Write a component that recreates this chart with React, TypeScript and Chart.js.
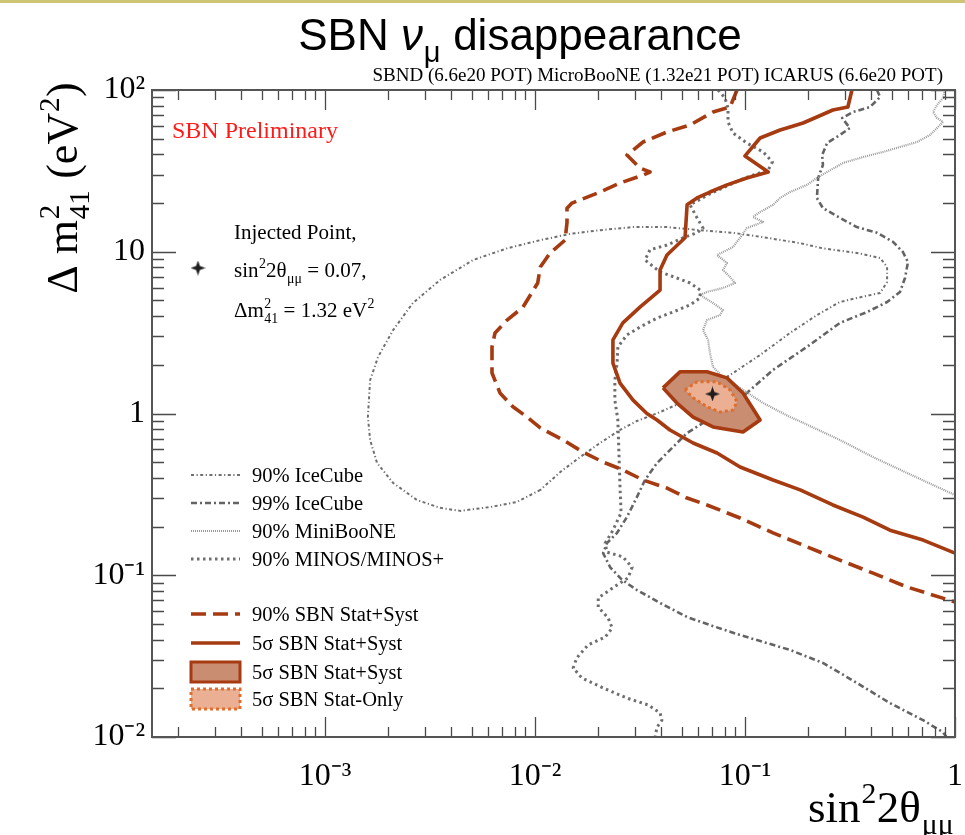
import React, { useEffect, useRef } from 'react';
import { Chart, registerables } from 'chart.js';

Chart.register(...registerables);

type Pt = [number, number];

// ---------------- axis ranges & tick labels ----------------
const xRange: [number, number] = [1.5e-4, 1];
const yRange: [number, number] = [1e-2, 1e2];
const xTickValues = [1e-3, 1e-2, 1e-1, 1];
const xTickLabels = ['10\u207B\u00B3', '10\u207B\u00B2', '10\u207B\u00B9', '1'];
const yTickValues = [1e-2, 1e-1, 1, 10, 100];
const yTickLabels = ['10\u207B\u00B2', '10\u207B\u00B9', '1', '10', '10\u00B2'];

// ---------------- data (sin^2 2theta, dm^2_41) ----------------
const injectedPoint: Pt[] = [[0.07, 1.32]];

const sbn90StatSyst: Pt[] = [
  [0.0916, 100], [0.0849, 78.5], [0.0704, 73.1], [0.0547, 60.8], [0.0425, 55.0], [0.0327, 47.7],
  [0.0274, 39.6], [0.0316, 32.9], [0.0353, 31.1], [0.0327, 29.8], [0.0254, 26.6], [0.0204, 23.4],
  [0.015, 20.0], [0.0142, 18.6], [0.0142, 15.1], [0.0139, 11.8], [0.0118, 9.83], [0.0106, 8.05],
  [0.0103, 6.41], [0.00877, 4.55], [0.00736, 3.78], [0.00645, 3.15], [0.00624, 2.58], [0.00624, 1.78],
  [0.00681, 1.34], [0.00785, 1.1], [0.00916, 0.951], [0.0106, 0.814], [0.0136, 0.686], [0.0169, 0.578],
  [0.0211, 0.501], [0.0262, 0.448], [0.0327, 0.388], [0.0425, 0.346], [0.053, 0.3], [0.0659, 0.272],
  [0.0947, 0.226], [0.136, 0.183], [0.197, 0.15], [0.283, 0.124], [0.407, 0.103], [0.591, 0.0846],
  [1, 0.0684],
];

const sbn5StatSyst: Pt[] = [
  [0.323, 100], [0.309, 78.5], [0.262, 75.2], [0.22, 68.1], [0.189, 62.5], [0.164, 59.0], [0.147, 56.6],
  [0.118, 50.5], [0.1, 39.1], [0.129, 31.1], [0.102, 28.6], [0.0821, 25.9], [0.0681, 23.4], [0.0591, 21.5],
  [0.053, 19.5], [0.0518, 12.2], [0.0425, 9.55], [0.0394, 7.71], [0.0394, 5.8], [0.0316, 4.55],
  [0.0262, 3.63], [0.0235, 2.85], [0.0235, 2.05], [0.0254, 1.54], [0.0293, 1.21], [0.0341, 1.0],
  [0.0381, 0.912], [0.0439, 0.791], [0.0566, 0.657], [0.0736, 0.57], [0.0947, 0.467], [0.136, 0.388],
  [0.183, 0.337], [0.262, 0.272], [0.365, 0.229], [0.49, 0.19], [0.705, 0.165], [1, 0.137],
];

const sbn5Region: Pt[] = [
  [0.0407, 1.44], [0.049, 1.81], [0.0659, 1.81], [0.0821, 1.66], [0.0978, 1.34], [0.118, 0.912],
  [0.0978, 0.768], [0.0704, 0.826], [0.0566, 0.951], [0.0474, 1.16], [0.0407, 1.44],
];

const sbn5StatOnly: Pt[] = [
  [0.0518, 1.4], [0.0591, 1.57], [0.0736, 1.57], [0.0849, 1.4], [0.0916, 1.18], [0.0877, 1.05],
  [0.076, 1.02], [0.0659, 1.1], [0.0566, 1.25], [0.0518, 1.4],
];

const iceCube90: Pt[] = [
  [0.0106, 0.337], [0.00821, 0.284], [0.00611, 0.264], [0.0044, 0.25], [0.00353, 0.261], [0.00274, 0.292],
  [0.00211, 0.372], [0.00177, 0.494], [0.00164, 0.686], [0.0016, 0.951], [0.00164, 1.61], [0.00179, 2.24],
  [0.00211, 3.28], [0.00262, 4.82], [0.00353, 6.69], [0.00507, 8.89], [0.00736, 10.5], [0.0106, 11.8],
  [0.0147, 12.9], [0.0204, 13.6], [0.0293, 14.2], [0.0425, 14.2], [0.0611, 13.6], [0.0877, 13.1],
  [0.127, 12.2], [0.183, 11.3], [0.235, 10.5], [0.341, 9.83], [0.44, 9.15], [0.475, 8.05], [0.475, 6.5],
  [0.44, 5.56], [0.341, 5.18], [0.283, 4.89], [0.22, 4.06], [0.164, 3.15], [0.118, 2.3], [0.0849, 1.73],
  [0.0566, 1.26], [0.0394, 1.02], [0.0306, 0.899], [0.0254, 0.791], [0.0204, 0.657], [0.0164, 0.538],
  [0.0132, 0.435], [0.0106, 0.337],
];

const iceCube99: Pt[] = [
  [0.425, 100], [0.44, 90.5], [0.394, 78.5], [0.327, 73.1], [0.29, 67.1], [0.316, 58.2], [0.283, 52.7],
  [0.246, 47.0], [0.233, 39.6], [0.235, 34.4], [0.223, 28.6], [0.22, 21.5], [0.235, 18.6], [0.283, 16.2],
  [0.341, 14.2], [0.425, 13.1], [0.507, 11.5], [0.565, 9.96], [0.597, 8.64], [0.578, 6.88], [0.547, 5.64],
  [0.475, 4.89], [0.381, 4.24], [0.283, 3.63], [0.197, 2.58], [0.136, 1.86], [0.102, 1.34], [0.0849, 1.05],
  [0.0631, 0.874], [0.053, 0.758], [0.0439, 0.594], [0.0381, 0.494], [0.0334, 0.388], [0.0306, 0.305],
  [0.0274, 0.229], [0.0246, 0.183], [0.022, 0.158], [0.0211, 0.137], [0.0228, 0.112], [0.026, 0.0935],
  [0.0306, 0.081], [0.0394, 0.0674], [0.053, 0.0552], [0.0681, 0.0492], [0.0947, 0.0427], [0.164, 0.0345],
  [0.235, 0.0287], [0.341, 0.0216], [0.49, 0.0162], [0.705, 0.0127], [0.877, 0.0107], [0.92, 0.0098],
];

const miniBooNE90: Pt[] = [
  [0.896, 100], [0.877, 89.3], [0.821, 80.8], [0.786, 73.1], [0.821, 67.1], [0.877, 63.4], [0.821, 58.2],
  [0.76, 52.7], [0.659, 47.7], [0.547, 44.4], [0.454, 41.4], [0.365, 38.5], [0.293, 35.4], [0.246, 31.1],
  [0.22, 28.6], [0.197, 25.9], [0.164, 23.4], [0.147, 21.5], [0.136, 19.5], [0.118, 17.6], [0.109, 16.4],
  [0.122, 15.3], [0.102, 14.0], [0.0947, 12.2], [0.0877, 10.7], [0.0736, 9.55], [0.0821, 8.52],
  [0.0785, 7.71], [0.0849, 6.98], [0.0896, 6.41], [0.0785, 5.97], [0.0659, 5.64], [0.0611, 5.4],
  [0.0704, 4.82], [0.0785, 4.36], [0.076, 4.06], [0.0659, 3.78], [0.0631, 3.28], [0.0667, 2.85],
  [0.0681, 2.37], [0.0704, 1.94], [0.0785, 1.68], [0.0978, 1.4], [0.122, 1.16], [0.164, 0.951],
  [0.177, 0.912], [0.283, 0.686], [0.407, 0.538], [0.591, 0.429], [1, 0.313],
];

const minos90: Pt[] = [
  [0.0744, 100], [0.0803, 89.3], [0.083, 77.4], [0.083, 63.4], [0.0877, 54.2], [0.102, 47.0], [0.122, 41.4],
  [0.135, 35.9], [0.129, 32.0], [0.1, 28.6], [0.0821, 25.5], [0.0681, 22.8], [0.0547, 19.5], [0.0591, 16.2],
  [0.0631, 14.0], [0.0591, 13.1], [0.0507, 12.2], [0.0425, 11.0], [0.0353, 10.3], [0.0334, 8.89],
  [0.0394, 7.5], [0.0474, 6.88], [0.0547, 6.41], [0.0611, 5.8], [0.0611, 5.18], [0.0547, 4.69],
  [0.0454, 4.24], [0.0381, 3.89], [0.0316, 3.42], [0.0274, 3.06], [0.0248, 2.58], [0.0246, 2.05],
  [0.024, 1.61], [0.024, 1.21], [0.0248, 0.912], [0.0251, 0.57], [0.0254, 0.351], [0.0257, 0.243],
  [0.0235, 0.19], [0.0216, 0.158], [0.022, 0.139], [0.0262, 0.13], [0.029, 0.112], [0.0277, 0.0962],
  [0.0246, 0.0871], [0.02, 0.0724], [0.02, 0.0636], [0.0223, 0.0544], [0.0233, 0.0472], [0.0216, 0.0415],
  [0.0179, 0.0371], [0.0158, 0.0308], [0.0152, 0.0267], [0.0167, 0.0232], [0.0211, 0.0201], [0.0274, 0.0174],
  [0.0345, 0.0158], [0.0394, 0.0141], [0.0402, 0.0127], [0.0381, 0.0115], [0.0373, 0.01],
];

const legendLabels = [
  '90% IceCube', '99% IceCube', '90% MiniBooNE', '90% MINOS/MINOS+',
  '90% SBN Stat+Syst', '5\u03C3 SBN Stat+Syst', '5\u03C3 SBN Stat+Syst', '5\u03C3 SBN Stat-Only',
];

// ---------------- styles ----------------
const SERIF = '"Liberation Serif", "Times New Roman", serif';
const SANS = '"Liberation Sans", Arial, sans-serif';
const SBN_COLOR = '#a63a10';
const REGION_FILL = '#c98d72';
const STATONLY_FILL = '#ebb093';
const STATONLY_LINE = '#df6d2c';

const lineStyles: any = {
  ice90: { color: '#6f6f6f', width: 2, dash: [3, 2.5, 1.2, 2.5] },
  ice99: { color: '#646464', width: 2.6, dash: [6, 3, 2, 3] },
  mini: { color: '#9a9a9a', width: 2.2, dash: [1, 1] },
  minos: { color: '#6e6e6e', width: 3, dash: [2.5, 3.5] },
  sbn90: { color: SBN_COLOR, width: 3.6, dash: [15, 7] },
  sbn5: { color: SBN_COLOR, width: 3.6, dash: [] },
};

function makeStar(size: number, color: string) {
  const c = document.createElement('canvas');
  c.width = size; c.height = size;
  const g = c.getContext('2d') as CanvasRenderingContext2D;
  const m = size / 2; const w = size * 0.13;
  g.fillStyle = color;
  g.beginPath();
  g.moveTo(m, 0); g.lineTo(m + w, m - w); g.lineTo(size, m); g.lineTo(m + w, m + w);
  g.lineTo(m, size); g.lineTo(m - w, m + w); g.lineTo(0, m); g.lineTo(m - w, m - w);
  g.closePath(); g.fill();
  return c;
}

function logTicks(min: number, max: number) {
  const out: { v: number; major: boolean }[] = [];
  for (let e = Math.floor(Math.log10(min)); e <= Math.ceil(Math.log10(max)); e++) {
    for (let k = 1; k <= 9; k++) {
      const v = k * Math.pow(10, e);
      if (v >= min * 0.9999 && v <= max * 1.0001) out.push({ v, major: k === 1 });
    }
  }
  return out;
}

type Seg = { t?: string; it?: boolean; sup?: string; sub?: string };

function drawRich(ctx: CanvasRenderingContext2D, x: number, y: number, segs: Seg[], size: number,
  family: string, align: 'left' | 'center' | 'right', color: string) {
  const small = size * 0.66;
  const widths = segs.map((s) => {
    if (s.sup !== undefined || s.sub !== undefined) {
      ctx.font = `${small}px ${family}`;
      return Math.max(ctx.measureText(s.sup || '').width, ctx.measureText(s.sub || '').width) + size * 0.03;
    }
    ctx.font = `${s.it ? 'italic ' : ''}${size}px ${family}`;
    return ctx.measureText(s.t || '').width;
  });
  const total = widths.reduce((a, b) => a + b, 0);
  let cx = align === 'left' ? x : align === 'center' ? x - total / 2 : x - total;
  ctx.fillStyle = color;
  ctx.textAlign = 'left';
  ctx.textBaseline = 'alphabetic';
  segs.forEach((s, i) => {
    if (s.sup !== undefined || s.sub !== undefined) {
      ctx.font = `${small}px ${family}`;
      if (s.sup) ctx.fillText(s.sup, cx + size * 0.02, y - size * 0.42);
      if (s.sub) ctx.fillText(s.sub, cx + size * 0.02, y + size * 0.27);
    } else {
      ctx.font = `${s.it ? 'italic ' : ''}${size}px ${family}`;
      ctx.fillText(s.t || '', cx, y);
    }
    cx += widths[i];
  });
}

let star15: HTMLCanvasElement;

const overlayPlugin = {
  id: 'overlay',
  afterDraw(chart: any) {
    const ctx: CanvasRenderingContext2D = chart.ctx;
    const a = chart.chartArea;
    const xs = chart.scales.x;
    const ys = chart.scales.y;
    ctx.save();

    // slide band at top
    ctx.fillStyle = '#cdc574';
    ctx.fillRect(0, 0, chart.width, 3);

    // inward ticks on all four sides
    ctx.strokeStyle = '#4a4a4a';
    ctx.lineWidth = 1.3;
    ctx.setLineDash([]);
    ctx.beginPath();
    for (const t of logTicks(xRange[0], xRange[1])) {
      const p = Math.round(xs.getPixelForValue(t.v)) + 0.5;
      const len = t.major ? 20 : 10;
      ctx.moveTo(p, a.bottom); ctx.lineTo(p, a.bottom - len);
      ctx.moveTo(p, a.top); ctx.lineTo(p, a.top + len);
    }
    for (const t of logTicks(yRange[0], yRange[1])) {
      const p = Math.round(ys.getPixelForValue(t.v)) + 0.5;
      const len = t.major ? 24 : 12;
      ctx.moveTo(a.left, p); ctx.lineTo(a.left + len, p);
      ctx.moveTo(a.right, p); ctx.lineTo(a.right - len, p);
    }
    ctx.stroke();
    ctx.strokeStyle = '#555';
    ctx.lineWidth = 2;
    ctx.strokeRect(a.left, a.top, a.right - a.left, a.bottom - a.top);

    // titles
    drawRich(ctx, 520, 50, [{ t: 'SBN ' }, { t: '\u03BD', it: true }, { sub: '\u03BC' }, { t: ' disappearance' }],
      44, SANS, 'center', '#000');
    drawRich(ctx, 943, 81, [{ t: 'SBND (6.6e20 POT) MicroBooNE (1.32e21 POT) ICARUS (6.6e20 POT)' }],
      19, SERIF, 'right', '#000');
    drawRich(ctx, 172, 138, [{ t: 'SBN Preliminary' }], 24, SERIF, 'left', '#ff1a1a');

    // axis titles
    drawRich(ctx, 954, 822, [{ t: 'sin' }, { sup: '2' }, { t: '2\u03B8' }, { sub: '\u03BC\u03BC' }],
      45, SERIF, 'right', '#000');
    ctx.save();
    ctx.translate(77, 188);
    ctx.rotate(-Math.PI / 2);
    drawRich(ctx, 0, 0, [{ t: '\u0394 m' }, { sup: '2', sub: '41' }, { t: ' (eV' }, { sup: '2' }, { t: ')' }],
      44, SERIF, 'center', '#000');
    ctx.restore();

    // injected point annotation
    ctx.drawImage(star15, 198 - 7.5, 268 - 7.5);
    drawRich(ctx, 234, 239, [{ t: 'Injected Point,' }], 21, SERIF, 'left', '#000');
    drawRich(ctx, 234, 277, [{ t: 'sin' }, { sup: '2' }, { t: '2\u03B8' }, { sub: '\u03BC\u03BC' }, { t: ' = 0.07,' }],
      21, SERIF, 'left', '#000');
    drawRich(ctx, 234, 317, [{ t: '\u0394m' }, { sup: '2', sub: '41' }, { t: ' = 1.32 eV' }, { sup: '2' }],
      21, SERIF, 'left', '#000');

    // legend
    const rows = [475, 503, 531, 559, 614, 643, 672, 699];
    const keys = ['ice90', 'ice99', 'mini', 'minos', 'sbn90', 'sbn5'];
    keys.forEach((k, i) => {
      const st = lineStyles[k];
      ctx.strokeStyle = st.color;
      ctx.lineWidth = st.width;
      ctx.setLineDash(st.dash);
      ctx.beginPath();
      ctx.moveTo(191, rows[i]); ctx.lineTo(240, rows[i]);
      ctx.stroke();
    });
    ctx.setLineDash([]);
    ctx.fillStyle = REGION_FILL;
    ctx.fillRect(191, 662, 49, 20);
    ctx.strokeStyle = SBN_COLOR; ctx.lineWidth = 3;
    ctx.strokeRect(191, 662, 49, 20);
    ctx.fillStyle = STATONLY_FILL;
    ctx.fillRect(191, 689, 49, 20);
    ctx.strokeStyle = STATONLY_LINE; ctx.lineWidth = 3; ctx.setLineDash([3, 3]);
    ctx.strokeRect(191, 689, 49, 20);
    ctx.setLineDash([]);
    legendLabels.forEach((lab, i) => {
      drawRich(ctx, 252, rows[i] + 7, [{ t: lab }], 20.5, SERIF, 'left', '#000');
    });

    ctx.restore();
  },
};

function lineDs(label: string, data: Pt[], st: any, order: number, extra: any = {}) {
  return {
    label,
    data: data.map(([x, y]) => ({ x, y })),
    showLine: true,
    pointRadius: 0,
    pointHoverRadius: 0,
    borderColor: st.color,
    borderWidth: st.width,
    borderDash: st.dash,
    borderJoinStyle: 'round',
    tension: 0,
    fill: false,
    clip: 0,
    order,
    ...extra,
  };
}

function labelFor(values: number[], labels: string[], v: number) {
  const i = values.findIndex((t) => Math.abs(Math.log10(t) - Math.log10(v)) < 1e-6);
  return i >= 0 ? labels[i] : '';
}

export default function App() {
  const ref = useRef<HTMLCanvasElement>(null);
  useEffect(() => {
    star15 = makeStar(15, '#1e1e1e');
    const canvas = ref.current as HTMLCanvasElement;
    const chart = new Chart(canvas, {
      type: 'scatter',
      data: {
        datasets: [
          {
            label: 'Injected point',
            data: injectedPoint.map(([x, y]) => ({ x, y })),
            pointStyle: star15,
            pointRadius: 8,
            showLine: false,
            clip: 0,
            order: 0,
          } as any,
          lineDs('5\u03C3 SBN Stat-Only', sbn5StatOnly,
            { color: STATONLY_LINE, width: 3, dash: [3, 3] }, 1,
            { fill: 'shape', backgroundColor: STATONLY_FILL }),
          lineDs('5\u03C3 SBN Stat+Syst region', sbn5Region, lineStyles.sbn5, 2,
            { fill: 'shape', backgroundColor: REGION_FILL }),
          lineDs('5\u03C3 SBN Stat+Syst', sbn5StatSyst, lineStyles.sbn5, 3),
          lineDs('90% SBN Stat+Syst', sbn90StatSyst, lineStyles.sbn90, 4),
          lineDs('90% MINOS/MINOS+', minos90, lineStyles.minos, 5),
          lineDs('90% MiniBooNE', miniBooNE90, lineStyles.mini, 6),
          lineDs('99% IceCube', iceCube99, lineStyles.ice99, 7),
          lineDs('90% IceCube', iceCube90, lineStyles.ice90, 8),
        ] as any,
      },
      options: {
        animation: false,
        responsive: false,
        devicePixelRatio: 1,
        events: [],
        layout: { padding: { top: 90, right: 10, left: 0, bottom: 0 } },
        plugins: {
          legend: { display: false },
          tooltip: { enabled: false },
          title: { display: false },
        },
        scales: {
          x: {
            type: 'logarithmic',
            min: xRange[0],
            max: xRange[1],
            grid: { display: false, drawTicks: false },
            border: { display: false },
            afterBuildTicks: (s: any) => { s.ticks = xTickValues.map((v) => ({ value: v })); },
            afterFit: (s: any) => { s.height = 98; s.paddingLeft = 0; s.paddingRight = 0; },
            ticks: {
              autoSkip: false,
              maxRotation: 0,
              padding: 20,
              color: '#000',
              font: { family: SERIF, size: 32 },
              callback: (v: any) => labelFor(xTickValues, xTickLabels, Number(v)),
            },
          },
          y: {
            type: 'logarithmic',
            min: yRange[0],
            max: yRange[1],
            grid: { display: false, drawTicks: false },
            border: { display: false },
            afterBuildTicks: (s: any) => { s.ticks = yTickValues.map((v) => ({ value: v })); },
            afterFit: (s: any) => { s.width = 152; s.paddingTop = 0; s.paddingBottom = 0; },
            ticks: {
              autoSkip: false,
              padding: 7,
              color: '#000',
              font: { family: SERIF, size: 32 },
              callback: (v: any) => labelFor(yTickValues, yTickLabels, Number(v)),
            },
          },
        },
      } as any,
      plugins: [overlayPlugin],
    });
    return () => chart.destroy();
  }, []);

  return (
    <div style={{ position: 'absolute', left: 0, top: 0, width: 965, height: 835, background: '#fff' }}>
      <canvas ref={ref} width={965} height={835} style={{ display: 'block', width: 965, height: 835 }} />
    </div>
  );
}
